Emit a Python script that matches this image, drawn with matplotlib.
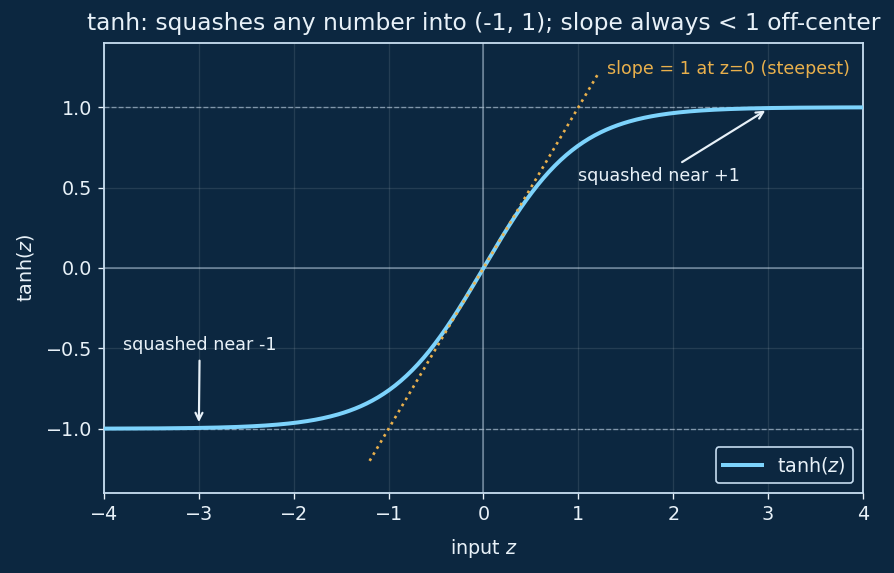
"""tanh activation plot with tangent at origin."""

import matplotlib
matplotlib.use("Agg")
import matplotlib.pyplot as plt
import numpy as np

plt.rcParams["font.family"] = ["DejaVu Sans"]
plt.rcParams["mathtext.fontset"] = "dejavusans"

BG = "#0c2740"
FG = "#e8f1f8"
SPINE = "#c6dcef"
CURVE = "#7dd3fc"
ORANGE = "#e9b04c"

# data
z = np.linspace(-4, 4, 400)
y = np.tanh(z)
tangent_z = [-1.2, 1.2]
tangent_y = [-1.2, 1.2]
xticks = [-4, -3, -2, -1, 0, 1, 2, 3, 4]
yticks = [-1.0, -0.5, 0.0, 0.5, 1.0]

fig = plt.figure(figsize=(7.45, 4.775), dpi=120, facecolor=BG)
ax = fig.add_axes([0.1163, 0.1396, 0.849, 0.7854], facecolor=BG)

ax.grid(True, color="white", alpha=0.1, linewidth=0.8)
ax.axhline(0, color="#8ea6bb", linewidth=1.0, alpha=0.7, zorder=1)
ax.axvline(0, color="#8ea6bb", linewidth=1.0, alpha=0.7, zorder=1)
ax.axhline(1, color="#8ea6bb", linestyle="--", linewidth=0.8, alpha=0.8, zorder=1)
ax.axhline(-1, color="#8ea6bb", linestyle="--", linewidth=0.8, alpha=0.8, zorder=1)

ax.plot(z, y, color=CURVE, linewidth=2.4, label=r"tanh($z$)", zorder=3)
ax.plot(tangent_z, tangent_y, color=ORANGE, linestyle=":", linewidth=1.6, zorder=4)

ax.text(1.3, 1.18, "slope = 1 at z=0 (steepest)", color=ORANGE, fontsize=10.5,
        va="bottom", ha="left")
ax.annotate("squashed near +1", xy=(3, 0.99), xytext=(1.0, 0.54),
            color=FG, fontsize=10.5,
            arrowprops=dict(arrowstyle="->", color=FG, lw=1.3))
ax.annotate("squashed near -1", xy=(-3, -0.98), xytext=(-3.8, -0.51),
            color=FG, fontsize=10.5,
            arrowprops=dict(arrowstyle="->", color=FG, lw=1.3))

ax.set_xlim(-4, 4)
ax.set_ylim(-1.4, 1.4)
ax.set_xticks(xticks)
ax.set_yticks(yticks)
ax.set_xlabel(r"input $z$", color=FG, fontsize=11.5, labelpad=8)
ax.set_ylabel(r"tanh($z$)", color=FG, fontsize=11.5, labelpad=6)
ax.set_title("tanh: squashes any number into (-1, 1); slope always < 1 off-center",
             color=FG, fontsize=14, pad=7.5)
ax.tick_params(colors=FG, labelsize=11.5)
for s in ax.spines.values():
    s.set_color(SPINE)
    s.set_linewidth(1.1)

leg = ax.legend(loc="lower right", facecolor=BG, edgecolor=SPINE,
                labelcolor=FG, fontsize=11.5, framealpha=1.0)

fig.savefig("out.png", dpi=120, facecolor=BG)
